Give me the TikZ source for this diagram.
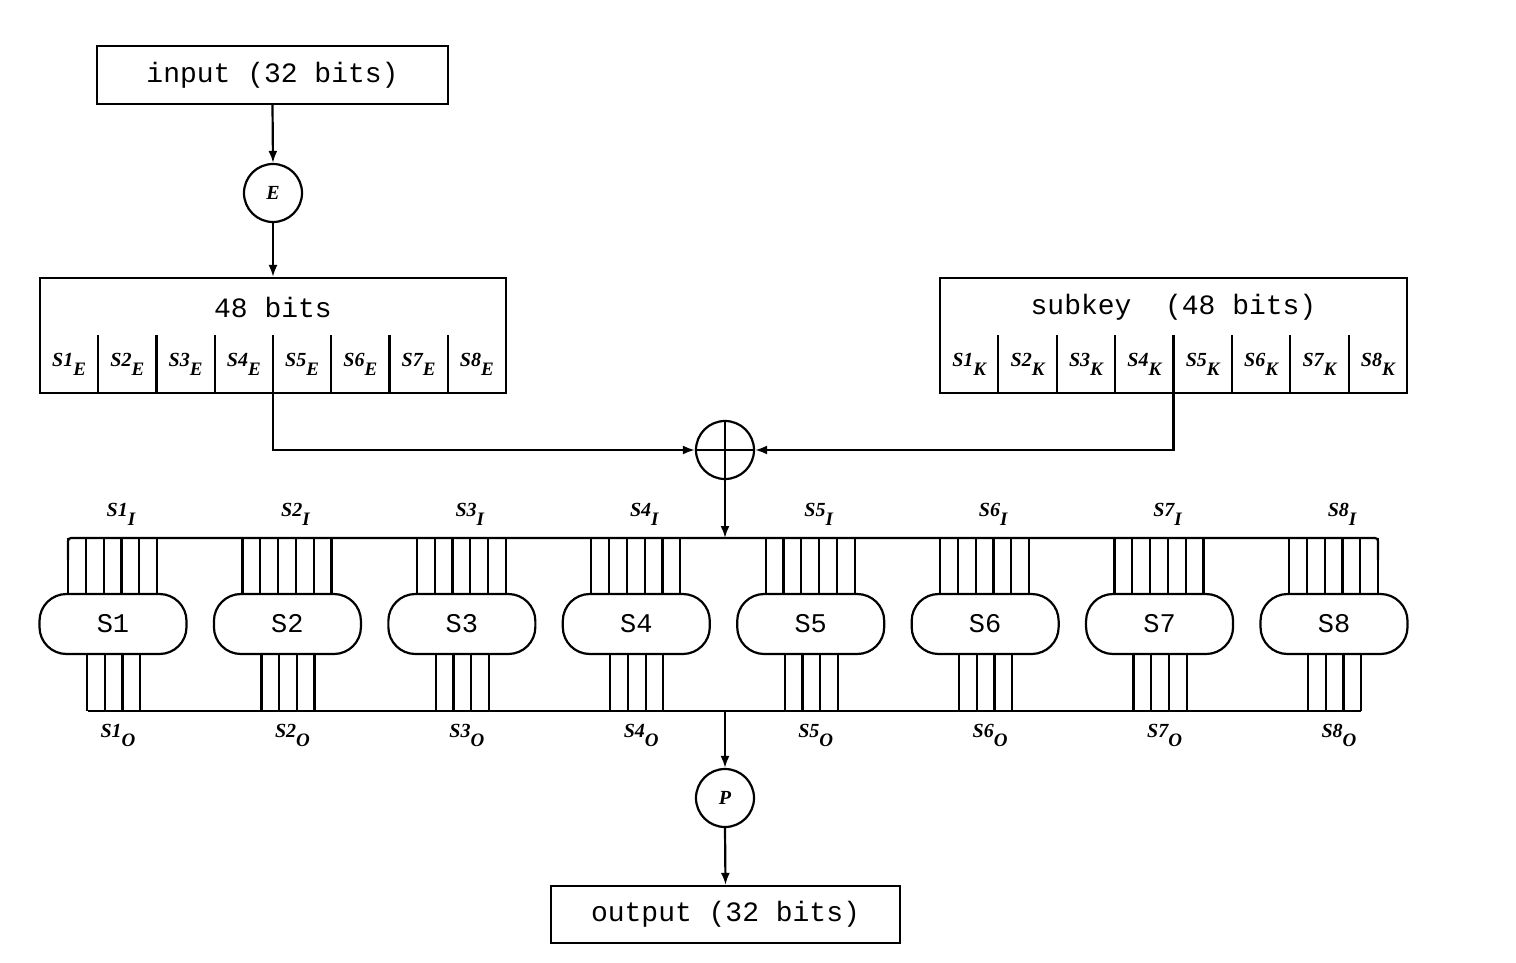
\documentclass[tikz,border=0pt]{standalone}
\usepackage{fontspec}
\setmainfont{Liberation Serif}
\setmonofont{Liberation Mono}
\usetikzlibrary{arrows.meta,calc}
\newcommand{\slab}[2]{#1\raisebox{-0.45em}{\fontsize{19}{22}\selectfont #2}}
\begin{document}
\begin{tikzpicture}[x=1pt,y=-1pt,line width=2.2pt,
  box/.style={draw,rectangle,inner sep=0pt,font=\fontsize{28}{32}\selectfont\ttfamily},
  circ/.style={draw,circle,minimum size=58pt,inner sep=0pt,font=\fontsize{20}{22}\selectfont\bfseries\itshape},
  sbox/.style={draw,rectangle,rounded corners=27pt,fill=white,minimum width=147pt,minimum height=60pt,inner sep=0pt,font=\fontsize{27}{30}\selectfont\ttfamily},
  lbl/.style={font=\fontsize{20}{22}\selectfont\bfseries\itshape,inner sep=0pt},
  ttl/.style={font=\fontsize{28}{32}\selectfont\ttfamily,inner sep=0pt},
  arr/.style={-{Latex[length=12pt,width=9pt]}}]
\useasboundingbox (0,0) rectangle (1516,963);
% top part
\node[box,minimum width=351pt,minimum height=58pt] (in) at (272.5,75) {input (32 bits)};
\node[circ] (E) at (273,193) {E};
\node[box,minimum width=466pt,minimum height=115pt] (b48) at (273,335.5) {};
\node[ttl] (t48) at (273,307) {48 bits};
\node[box,minimum width=467pt,minimum height=115pt] (sk) at (1173.5,335.5) {};
\node[ttl] (tsk) at (1173.5,307) {subkey\ \ (48 bits)};
\foreach \i in {1,...,8}{
  \node[lbl] (e\i) at ({40+58.25*(\i-0.5)},364) {\slab{S\i}{E}};
  \node[lbl] (k\i) at ({940+58.375*(\i-0.5)},364) {\slab{S\i}{K}};
}
\foreach \i in {1,...,7}{
  \draw ({40+58.25*\i},335) -- ({40+58.25*\i},393);
  \draw ({940+58.375*\i},335) -- ({940+58.375*\i},393);
}
\draw[arr] (in.south) -- (E.north);
\draw[arr] (E.south) -- (b48.north);
% XOR
\node[draw,circle,minimum size=58pt,inner sep=0pt] (X) at (725,450) {};
\draw (X.north) -- (X.south) (X.west) -- (X.east);
\coordinate (e5) at (273,393);
\coordinate (k5) at (1173.5,393);
\draw[arr] (e5) |- (X.west);
\draw[arr] (k5) |- (X.east);
\coordinate (tb) at (725,538);
\draw[arr] (X.south) -- (tb);
% buses
\draw[rounded corners=3pt] (68,560) -- (68,538) -- (1378,538) -- (1378,560);
\draw (88,711) -- (1361,711);
% S-boxes
\foreach \i in {1,...,8}{
  \pgfmathsetmacro{\cx}{113+174.43*(\i-1)}
  \foreach \k in {0,...,5}{
    \draw ({\cx-45+17.8*\k},538) -- ({\cx-45+17.8*\k},594);
  }
  \foreach \k in {0,...,3}{
    \draw ({\cx-26+17.7*\k},654) -- ({\cx-26+17.7*\k},711);
  }
  \node[sbox] (s\i) at (\cx,624) {S\i};
  \node[lbl] (si\i) at ({\cx+8},514) {\slab{S\i}{I}};
  \node[lbl] (so\i) at ({\cx+5},735) {\slab{S\i}{O}};
}
% bottom part
\coordinate (bb) at (725,711);
\node[circ] (P) at (725,798) {P};
\node[box,minimum width=349pt,minimum height=57pt] (out) at (725.5,914.5) {output (32 bits)};
\draw[arr] (bb) -- (P.north);
\draw[arr] (P.south) -- (out.north);
\end{tikzpicture}
\end{document}
